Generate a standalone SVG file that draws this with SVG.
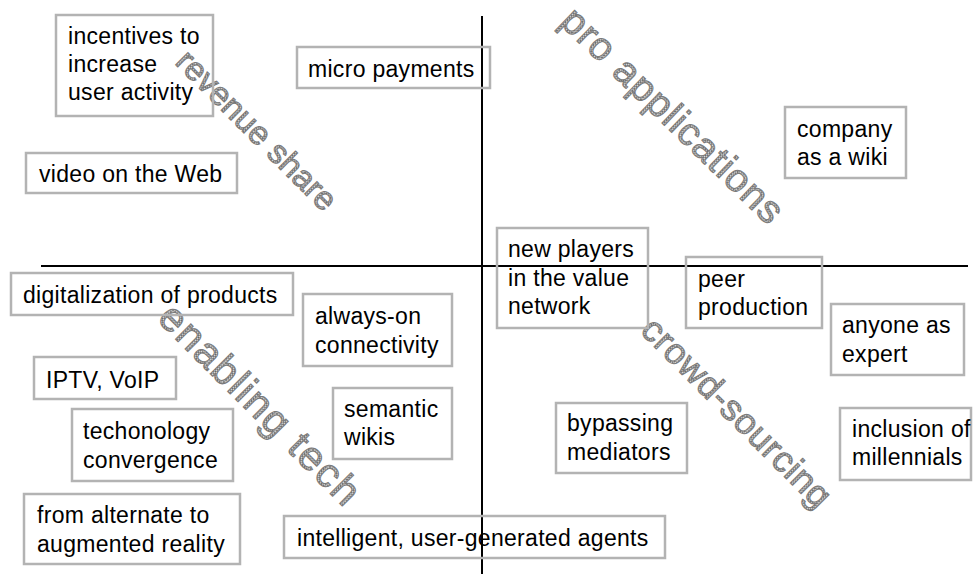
<svg xmlns="http://www.w3.org/2000/svg" width="973" height="574" viewBox="0 0 973 574">
<style>
.box{fill:none;stroke:#b3b3b3;stroke-width:2.5}
.t{font-family:"Liberation Sans",Arial,sans-serif;font-size:23px;letter-spacing:0.3px;fill:#000}
.diag{font-family:"Liberation Sans",Arial,sans-serif;fill:url(#hatch);stroke:#7a7a7a;stroke-width:1;text-anchor:middle;dominant-baseline:central}
.axis{stroke:#000;stroke-width:2;fill:none}
</style>
<defs>
<pattern id="hatch" patternUnits="userSpaceOnUse" width="3" height="3">
<rect width="3" height="3" fill="#d8d8d8"/>
<path d="M0,0L3,3M3,0L0,3" stroke="#5a5a5a" stroke-width="0.8"/>
</pattern>
</defs>
<rect width="973" height="574" fill="#fff"/>
<g id="labels">
<text class="diag" x="257" y="130" font-size="33" textLength="212" lengthAdjust="spacing" transform="rotate(45 257 130)">revenue share</text>
<text class="diag" x="673" y="115" font-size="39" textLength="292" lengthAdjust="spacing" transform="rotate(44 673 115)">pro applications</text>
<text class="diag" x="260" y="404" font-size="41" textLength="266" lengthAdjust="spacing" transform="rotate(45 260 404)">enabling tech</text>
<text class="diag" x="737" y="412" font-size="36" textLength="252" lengthAdjust="spacing" transform="rotate(45 737 412)">crowd-sourcing</text>
</g>
<g id="connectors">
<line class="axis" x1="482" y1="16" x2="482" y2="574"/>
<line class="axis" x1="41" y1="266" x2="968" y2="266"/>
</g>
<g id="n-incentives"><rect class="box" x="56" y="15" width="157" height="101"/><text class="t" x="68" y="44">incentives to</text><text class="t" x="68" y="72">increase</text><text class="t" x="68" y="100">user activity</text></g>
<g id="n-video"><rect class="box" x="26" y="153" width="211" height="40"/><text class="t" x="39" y="182">video on the Web</text></g>
<g id="n-micro"><rect class="box" x="297" y="47" width="193" height="41"/><text class="t" x="308" y="77">micro payments</text></g>
<g id="n-company"><rect class="box" x="785" y="107" width="121" height="71"/><text class="t" x="797" y="137">company</text><text class="t" x="797" y="165">as a wiki</text></g>
<g id="n-digital"><rect class="box" x="11" y="273" width="282" height="42"/><text class="t" x="23" y="303">digitalization of products</text></g>
<g id="n-always"><rect class="box" x="303" y="294" width="149" height="72"/><text class="t" x="315" y="324">always-on</text><text class="t" x="315" y="353">connectivity</text></g>
<g id="n-iptv"><rect class="box" x="34" y="357" width="142" height="42"/><text class="t" x="46" y="388">IPTV, VoIP</text></g>
<g id="n-techconv"><rect class="box" x="72" y="409" width="161" height="72"/><text class="t" x="83" y="439">techonology</text><text class="t" x="83" y="468">convergence</text></g>
<g id="n-alternate"><rect class="box" x="24" y="494" width="216" height="70"/><text class="t" x="37" y="523">from alternate to</text><text class="t" x="37" y="552">augmented reality</text></g>
<g id="n-semantic"><rect class="box" x="333" y="388" width="119" height="71"/><text class="t" x="344" y="417">semantic</text><text class="t" x="344" y="445">wikis</text></g>
<g id="n-agents"><rect class="box" x="284" y="516" width="381" height="42"/><text class="t" x="297" y="546">intelligent, user-generated agents</text></g>
<g id="n-bypassing"><rect class="box" x="556" y="403" width="131" height="70"/><text class="t" x="567" y="431">bypassing</text><text class="t" x="567" y="460">mediators</text></g>
<g id="n-newplayers"><rect class="box" x="497" y="228" width="151" height="100"/><text class="t" x="508" y="257">new players</text><text class="t" x="508" y="286">in the value</text><text class="t" x="508" y="314">network</text></g>
<g id="n-peer"><rect class="box" x="686" y="257" width="136" height="71"/><text class="t" x="698" y="287">peer</text><text class="t" x="698" y="315">production</text></g>
<g id="n-anyone"><rect class="box" x="831" y="304" width="133" height="71"/><text class="t" x="842" y="333">anyone as</text><text class="t" x="842" y="362">expert</text></g>
<g id="n-inclusion"><rect class="box" x="840" y="408" width="131" height="72"/><text class="t" x="852" y="437">inclusion of</text><text class="t" x="852" y="465">millennials</text></g>
</svg>
